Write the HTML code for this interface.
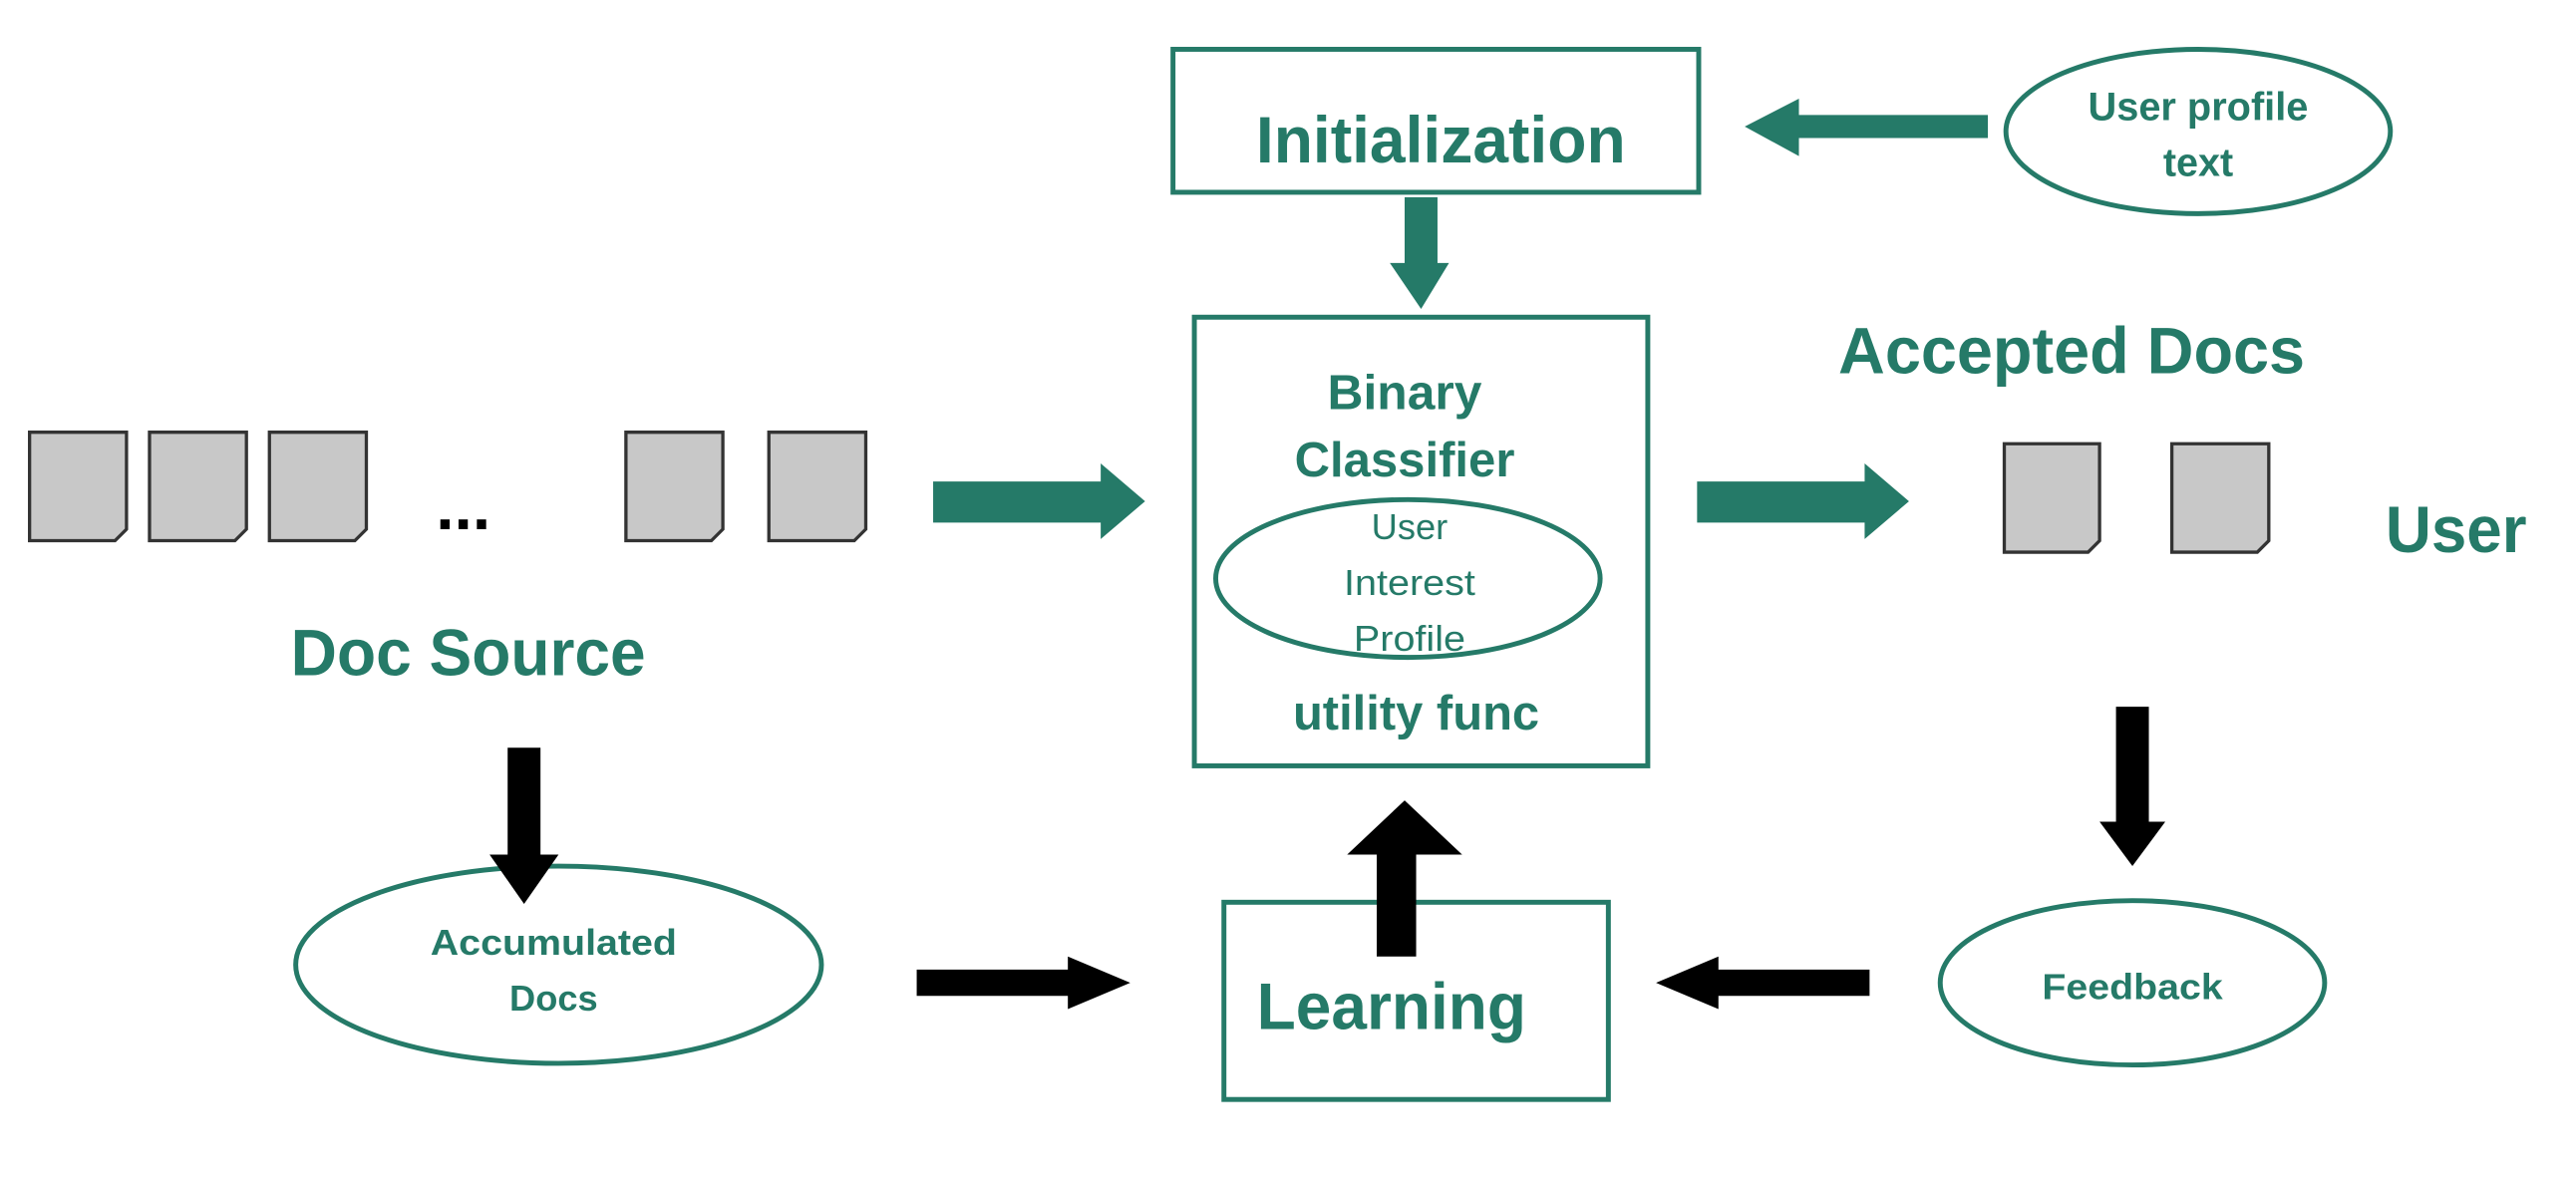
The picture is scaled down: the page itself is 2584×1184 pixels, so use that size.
<!DOCTYPE html>
<html><head><meta charset="utf-8"><style>
html,body{margin:0;padding:0;background:#fff;}
svg{display:block}
text{font-family:"Liberation Sans",Arial,sans-serif;font-weight:bold;fill:#257a68;text-anchor:middle}
</style></head><body>
<svg width="2584" height="1184" viewBox="0 0 1568 718" preserveAspectRatio="none">
<rect width="1568" height="718" fill="#fff"/>
<g fill="none" stroke="#257a68" stroke-width="3">
<rect x="714" y="30" width="320" height="87"/>
<ellipse cx="1338" cy="80" rx="117" ry="50"/>
<rect x="727" y="193" width="276" height="273"/>
<ellipse cx="857" cy="352" rx="117" ry="48"/>
<ellipse cx="340" cy="587" rx="160" ry="60"/>
<rect x="745" y="549" width="234" height="120"/>
<ellipse cx="1298" cy="598" rx="117" ry="50"/>
</g>
<g fill="#257a68">
<polygon points="1210,70 1095,70 1095,60 1062,77 1095,95 1095,84 1210,84"/>
<polygon points="855,120 875,120 875,160 882,160 865,188 846,160 855,160"/>
<polygon points="568,293 670,293 670,282 697,305 670,328 670,318 568,318"/>
<polygon points="1033,293 1135,293 1135,282 1162,305 1135,328 1135,318 1033,318"/>
</g>
<g fill="#000">
<polygon points="309,455 329,455 329,520 340,520 319,550 298,520 309,520"/>
<polygon points="558,590 650,590 650,582 688,598 650,614 650,606 558,606"/>
<polygon points="838,582 862,582 862,520 890,520 855,487 820,520 838,520"/>
<polygon points="1288,430 1308,430 1308,500 1318,500 1298,527 1278,500 1288,500"/>
<polygon points="1138,590 1046,590 1046,582 1008,598 1046,614 1046,606 1138,606"/>
</g>
<g fill="#c8c8c8" stroke="#333" stroke-width="2">
<path d="M18,263 H77 V322 L70,329 H18 Z"/>
<path d="M91,263 H150 V322 L143,329 H91 Z"/>
<path d="M164,263 H223 V322 L216,329 H164 Z"/>
<path d="M381,263 H440 V322 L433,329 H381 Z"/>
<path d="M468,263 H527 V322 L520,329 H468 Z"/>
<path d="M1220,270 H1278 V329 L1271,336 H1220 Z"/>
<path d="M1322,270 H1381 V329 L1374,336 H1322 Z"/>
</g>
<text x="282" y="322" font-size="40" style="fill:#000">...</text>
<text x="877" y="99" font-size="40" textLength="225" lengthAdjust="spacingAndGlyphs">Initialization</text>
<text x="1338" y="73" font-size="24" textLength="134" lengthAdjust="spacingAndGlyphs">User profile</text>
<text x="1338" y="107" font-size="24">text</text>
<text x="855" y="249" font-size="30" textLength="94" lengthAdjust="spacingAndGlyphs">Binary</text>
<text x="855" y="290" font-size="30" textLength="134" lengthAdjust="spacingAndGlyphs">Classifier</text>
<text x="858" y="328" font-size="22" style="font-weight:normal">User</text>
<text x="858" y="362" font-size="22" style="font-weight:normal" textLength="80" lengthAdjust="spacingAndGlyphs">Interest</text>
<text x="858" y="396" font-size="22" style="font-weight:normal" textLength="68" lengthAdjust="spacingAndGlyphs">Profile</text>
<text x="862" y="444" font-size="30" textLength="150" lengthAdjust="spacingAndGlyphs">utility func</text>
<text x="285" y="411" font-size="40" textLength="216" lengthAdjust="spacingAndGlyphs">Doc Source</text>
<text x="1261" y="227" font-size="40" textLength="284" lengthAdjust="spacingAndGlyphs">Accepted Docs</text>
<text x="1495" y="336" font-size="40" textLength="86" lengthAdjust="spacingAndGlyphs">User</text>
<text x="337" y="581" font-size="22" textLength="150" lengthAdjust="spacingAndGlyphs">Accumulated</text>
<text x="337" y="615" font-size="22">Docs</text>
<text x="847" y="626" font-size="40" textLength="164" lengthAdjust="spacingAndGlyphs">Learning</text>
<text x="1298" y="608" font-size="22" textLength="110" lengthAdjust="spacingAndGlyphs">Feedback</text>
</svg>
</body></html>
